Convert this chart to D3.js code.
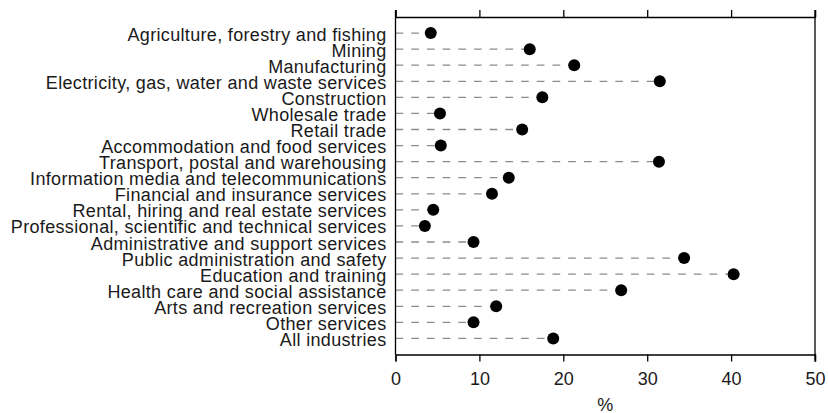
<!DOCTYPE html>
<html><head><meta charset="utf-8">
<script src="https://cdn.jsdelivr.net/npm/d3@7"></script>
<style>body{margin:0;background:#fff}svg{display:block}</style>
</head><body>
<svg id="c" width="828" height="413"></svg>
<script>
const categories = [
  "Agriculture, forestry and fishing","Mining","Manufacturing",
  "Electricity, gas, water and waste services","Construction","Wholesale trade",
  "Retail trade","Accommodation and food services","Transport, postal and warehousing",
  "Information media and telecommunications","Financial and insurance services",
  "Rental, hiring and real estate services","Professional, scientific and technical services",
  "Administrative and support services","Public administration and safety",
  "Education and training","Health care and social assistance",
  "Arts and recreation services","Other services","All industries"];
const values = [4.2,16.0,21.3,31.5,17.5,5.3,15.1,5.4,31.4,13.5,11.5,4.5,3.5,9.3,34.4,40.3,26.9,12.0,9.3,18.8];
const xTicks = [0,10,20,30,40,50];
const xLabel = "%";

(function(){
const FONT = "'Liberation Sans',Arial,sans-serif";
const svg = d3.select("#c");
const L = 395.5, R = 815, T = 17, B = 354.5;
const x = d3.scaleLinear().domain([0,50]).range([L,R]);
const y = d3.scalePoint().domain(categories).range([T,B]).padding(1);

svg.append("g").selectAll("line").data(categories).join("line")
  .attr("x1", L).attr("x2", (d,i)=>x(values[i]))
  .attr("y1", d=>y(d)).attr("y2", d=>y(d))
  .attr("stroke","#8c8c8c").attr("stroke-width",1.3).attr("stroke-dasharray","7.7,8");

const gBottom = svg.append("g").attr("transform",`translate(0,${B})`)
  .call(d3.axisBottom(x).tickValues(xTicks).tickSize(7).tickPadding(6));
const gTop = svg.append("g").attr("transform",`translate(0,${T})`)
  .call(d3.axisTop(x).tickValues(xTicks).tickSize(7).tickFormat(""));
const gLeft = svg.append("g").attr("transform",`translate(${L},0)`)
  .call(d3.axisLeft(y).tickSize(0).tickPadding(9));
[gBottom, gTop, gLeft].forEach(g=>{
  g.select(".domain").attr("stroke","#000").attr("stroke-width",1.3);
  g.selectAll(".tick line").attr("stroke","#000").attr("stroke-width",1.3);
});
gLeft.select(".domain").attr("d", `M0,${T-7}V${B}`);
svg.append("line").attr("x1",R).attr("x2",R).attr("y1",T-7).attr("y2",B+7)
  .attr("stroke","#000").attr("stroke-width",1.3);
gBottom.selectAll(".tick text").attr("font-family",FONT).attr("font-size",18).attr("fill","#1a1a1a")
  .attr("y",30.5).attr("dy",0);
gLeft.selectAll(".tick text").attr("font-family",FONT).attr("font-size",18).attr("fill","#1a1a1a")
  .attr("letter-spacing",0.33).attr("dy",0).attr("y",7);

svg.append("g").selectAll("circle").data(categories).join("circle")
  .attr("cx",(d,i)=>x(values[i])).attr("cy",d=>y(d)).attr("r",6).attr("fill","#000");

svg.append("text").attr("x",(L+R)/2).attr("y",411).attr("text-anchor","middle")
  .attr("font-family",FONT).attr("font-size",18).attr("fill","#1a1a1a").text(xLabel);
})();
</script>
</body></html>
